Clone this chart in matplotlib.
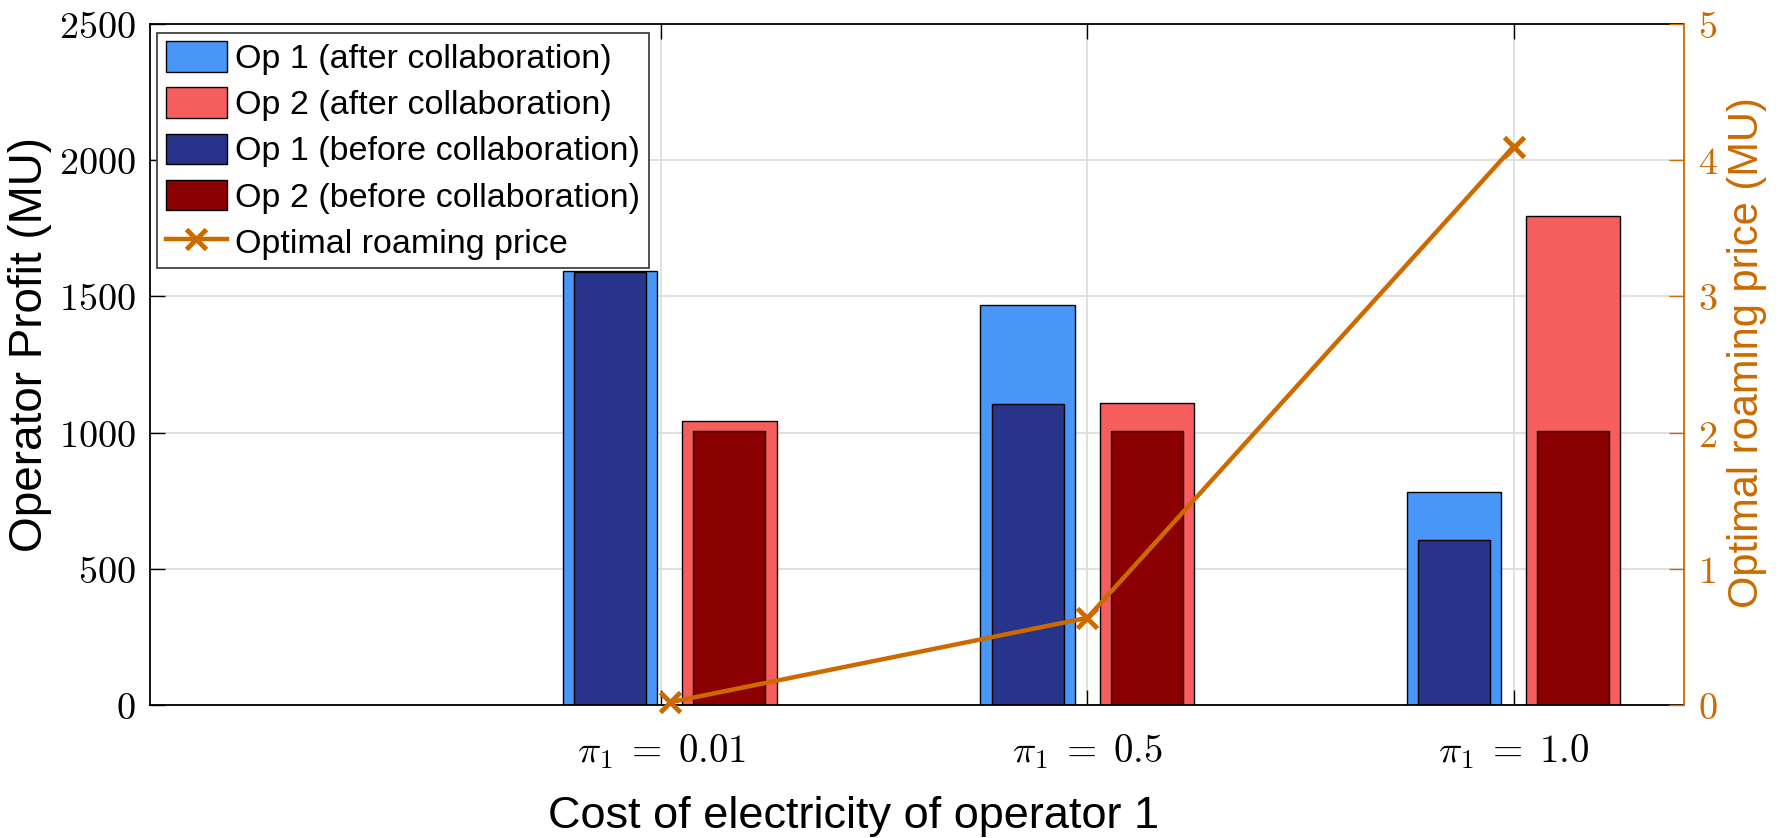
import numpy as np
import matplotlib
matplotlib.use("Agg")
import matplotlib.pyplot as plt

plt.rcParams['font.family'] = ['Liberation Sans', 'DejaVu Sans']
plt.rcParams['mathtext.fontset'] = 'cm'

# data
x_pos = [1.02, 2.0, 3.0]
x_ticks = [1, 2, 3]
x_labels = [r'$\pi_1 \;=\; 0.01$', r'$\pi_1 \;=\; 0.5$', r'$\pi_1 \;=\; 1.0$']
op1_after = [1594, 1468, 782]
op2_after = [1044, 1109, 1794]
op1_before = [1588, 1105, 606]
op2_before = [1005, 1005, 1005]
roaming_price = [0.02, 0.64, 4.10]

c_lblue = '#4896F8'
c_lred = '#F65D5D'
c_dblue = '#27348A'
c_dred = '#8B0000'
c_orange = '#CC6A00'

fig = plt.figure(figsize=(17.85, 8.38), dpi=100)
ax = fig.add_axes([0.084, 0.1587, 0.8594, 0.8127])
ax2 = ax.twinx()

x = np.array(x_pos)
off = 0.14
wide = 0.222
narrow = 0.169
b1 = ax.bar(x - off, op1_after, wide, color=c_lblue, edgecolor='black', lw=1.0,
            label='Op 1 (after collaboration)')
b2 = ax.bar(x + off, op2_after, wide, color=c_lred, edgecolor='black', lw=1.0,
            label='Op 2 (after collaboration)')
b3 = ax.bar(x - off, op1_before, narrow, color=c_dblue, edgecolor='black', lw=1.0,
            label='Op 1 (before collaboration)')
b4 = ax.bar(x + off, op2_before, narrow, color=c_dred, edgecolor='black', lw=1.0,
            label='Op 2 (before collaboration)')

ln, = ax2.plot(x, roaming_price, color=c_orange, lw=3.2, marker='x', ms=14, mew=3.5,
               label='Optimal roaming price', clip_on=False)

ax.set_xlim(-0.2, 3.4)
ax.set_ylim(0, 2500)
ax2.set_ylim(0, 5)

ax.set_xticks(x_ticks)
ax.set_xticklabels(x_labels, fontsize=28)
yt = np.arange(0, 2501, 500)
ax.set_yticks(yt)
ax.set_yticklabels([f'${v}$' for v in yt], fontsize=27.5)
yt2 = np.arange(0, 6)
ax2.set_yticks(yt2)
ax2.set_yticklabels([f'${v}$' for v in yt2], fontsize=27.5, color=c_orange)

ax.grid(True, color='#DDDDDD', lw=1.3)
ax.set_axisbelow(True)

ax.tick_params(axis='both', direction='in', length=11, width=1.0, top=True, right=False)
ax.tick_params(axis='y', pad=10)
ax.tick_params(axis='x', pad=20)
ax2.tick_params(axis='y', direction='in', length=11, width=1.0, colors=c_orange, pad=10)

for s in ['left', 'bottom', 'top']:
    ax.spines[s].set_linewidth(1.3)
    ax.spines[s].set_color('black')
ax2.spines['right'].set_color(c_orange)
ax2.spines['right'].set_linewidth(1.3)
ax2.spines['left'].set_visible(False)
ax2.spines['top'].set_visible(False)
ax2.spines['bottom'].set_visible(False)
ax.spines['right'].set_visible(False)

ax.set_ylabel('Operator Profit (MU)', fontsize=33, va='center')
ax.yaxis.set_label_coords(-0.078, 0.53)
ax.set_xlabel('Cost of electricity of operator 1', fontsize=32.5, va='center')
ax.xaxis.set_label_coords(0.459, -0.164)
ax2.set_ylabel('Optimal roaming price (MU)', fontsize=30, color=c_orange,
               rotation=90, va='center')
ax2.yaxis.set_label_coords(1.041, 0.517)

leg = ax2.legend(handles=[b1, b2, b3, b4, ln], loc='upper left',
                 bbox_to_anchor=(0.0046, 0.987), borderaxespad=0, fontsize=24.5,
                 fancybox=False, edgecolor='#333333', framealpha=1,
                 handlelength=1.8, handleheight=1.0, handletextpad=0.25,
                 labelspacing=0.36, borderpad=0.25)
leg.get_frame().set_linewidth(1.2)

fig.savefig('out.png', dpi=100)
